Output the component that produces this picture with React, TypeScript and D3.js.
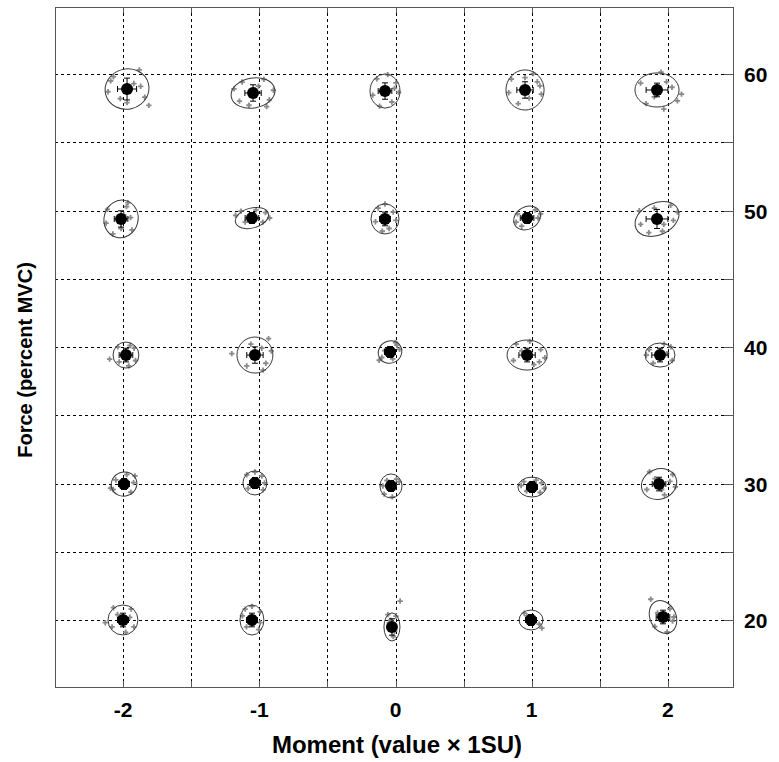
import React from "react";
import * as d3 from "d3";

// target conditions
const moments = [-2, -1, 0, 1, 2];
const forces = [60, 50, 40, 30, 20];

// mean positions of each condition, row by row (force 60 -> 20), column by moment
const meanX = [
  [-1.971, -1.046, -0.077, 0.951, 1.92],
  [-2.015, -1.054, -0.077, 0.966, 1.92],
  [-1.979, -1.032, -0.04, 0.966, 1.942],
  [-1.993, -1.032, -0.033, 1.002, 1.935],
  [-2.001, -1.054, -0.026, 0.995, 1.964],
];
const meanY = [
  [58.9, 58.61, 58.75, 58.83, 58.83],
  [49.38, 49.45, 49.38, 49.45, 49.38],
  [39.41, 39.41, 39.63, 39.41, 39.41],
  [29.96, 30.04, 29.82, 29.74, 29.96],
  [20.0, 20.0, 19.49, 20.0, 20.22],
];

// standard errors (error bars)
const errX = [
  [0.07, 0.06, 0.05, 0.06, 0.08],
  [0.05, 0.05, 0.04, 0.05, 0.08],
  [0.05, 0.06, 0.04, 0.06, 0.06],
  [0.04, 0.04, 0.03, 0.04, 0.05],
  [0.04, 0.04, 0.03, 0.04, 0.05],
];
const errY = [
  [0.8, 0.6, 0.6, 0.6, 0.5],
  [0.6, 0.4, 0.5, 0.4, 0.7],
  [0.5, 0.6, 0.4, 0.5, 0.5],
  [0.4, 0.4, 0.4, 0.4, 0.5],
  [0.5, 0.5, 0.6, 0.4, 0.5],
];

// ellipses: [rx (moment units), ry (force units), tilt degrees]
const ellipses = [
  [[0.162, 1.47, -15], [0.162, 1.1, -10], [0.11, 1.25, 0], [0.14, 1.47, 0], [0.162, 1.25, 0]],
  [[0.125, 1.39, 15], [0.125, 0.73, -15], [0.103, 1.1, 0], [0.103, 0.81, -30], [0.169, 1.17, -25]],
  [[0.095, 0.95, 0], [0.132, 1.32, 0], [0.088, 0.81, -30], [0.147, 1.1, 0], [0.11, 0.88, 0]],
  [[0.095, 0.88, -20], [0.088, 0.88, 0], [0.081, 0.88, 0], [0.103, 0.73, 0], [0.132, 1.1, -20]],
  [[0.11, 1.1, 0], [0.088, 1.1, 0], [0.059, 1.03, 0], [0.088, 0.73, 0], [0.095, 1.25, -25]],
];

// individual trials, offsets from the mean [dMoment, dForce]
const trials = [
  [
    [[-0.12, 0.6], [0.09, 1.4], [0.13, -0.6], [0.16, -1.2], [-0.14, -0.2], [-0.1, 0.9], [0.05, 0.4], [0.0, -1.0], [0.1, 0.2], [-0.05, -0.7]],
    [[-0.14, 0.3], [0.08, 1.0], [0.12, -0.5], [-0.1, -0.6], [0.04, 0.5], [0.15, 0.2], [-0.03, -0.9], [0.1, -1.0], [-0.08, 0.8]],
    [[-0.06, 0.9], [0.08, 0.6], [0.05, -0.8], [-0.09, -0.3], [0.02, 1.2], [0.1, -0.1], [-0.04, -1.1], [0.07, 0.2]],
    [[-0.1, 0.8], [0.06, 1.2], [0.12, -0.3], [-0.05, -1.0], [0.09, 0.6], [-0.12, -0.2], [0.03, -0.6], [0.11, 0.3], [0.0, 0.9]],
    [[-0.12, 0.5], [0.03, 1.3], [0.11, 0.2], [0.18, -0.3], [0.15, -0.8], [-0.08, -1.0], [0.05, -1.4], [-0.02, -0.5], [0.07, 0.6]],
  ],
  [
    [[-0.1, 0.7], [0.05, 1.2], [0.08, -0.8], [-0.06, -1.1], [0.02, 0.3], [-0.11, -0.3], [0.07, 0.1], [0.0, -0.7], [0.04, 0.9]],
    [[-0.12, 0.2], [0.1, 0.4], [0.08, -0.3], [-0.05, -0.3], [0.13, 0.0], [-0.08, 0.5], [0.03, 0.6]],
    [[-0.05, 0.8], [0.06, 0.5], [0.03, -0.7], [-0.07, -0.2], [0.0, 1.1], [0.08, -0.1], [-0.02, -0.9]],
    [[-0.08, -0.3], [0.06, 0.6], [0.1, 0.3], [-0.04, -0.6], [0.03, 0.1], [-0.07, 0.3], [0.08, 0.0]],
    [[-0.13, 0.6], [0.1, 1.0], [0.15, 0.5], [-0.12, -0.4], [-0.06, -1.0], [0.05, -0.4], [0.12, -0.1], [-0.02, 0.8], [0.04, -0.9]],
  ],
  [
    [[-0.06, 0.6], [0.06, 0.5], [0.07, -0.4], [-0.05, -0.5], [-0.12, -0.3], [0.02, -0.8], [0.03, 0.7]],
    [[-0.17, 0.1], [0.1, 1.2], [0.08, -0.6], [-0.06, -0.8], [0.05, 0.5], [0.12, 0.3], [-0.03, 0.8], [0.06, -1.1]],
    [[-0.06, -0.4], [0.05, 0.5], [0.07, 0.2], [-0.04, 0.1], [0.02, -0.5], [-0.08, -0.6], [0.04, 0.7]],
    [[-0.08, 0.8], [0.02, 1.0], [0.1, 0.4], [0.13, -0.2], [-0.1, -0.4], [0.05, -0.7], [-0.04, 0.3], [0.09, -0.5]],
    [[-0.08, 0.4], [0.08, 0.6], [0.09, -0.4], [-0.05, -0.6], [0.03, 0.8], [-0.1, 0.0], [0.05, 0.1]],
  ],
  [
    [[-0.08, -0.4], [0.08, 0.6], [0.05, -0.6], [-0.06, 0.3], [0.02, 0.7], [-0.1, -0.3], [0.07, 0.1]],
    [[-0.06, 0.6], [0.05, 0.5], [0.06, -0.5], [-0.05, -0.4], [0.0, 0.8], [0.07, 0.0]],
    [[-0.05, -0.6], [0.04, 0.5], [0.06, 0.3], [-0.03, 0.4], [0.01, -0.8], [-0.06, 0.0]],
    [[-0.08, 0.1], [0.07, 0.3], [0.09, -0.1], [-0.04, -0.3], [0.03, 0.5], [-0.06, 0.4], [0.06, -0.4]],
    [[-0.07, 0.9], [0.1, 0.7], [0.12, -0.2], [-0.09, -0.4], [0.04, -0.8], [-0.03, 0.4], [0.08, 0.2], [0.02, -0.4]],
  ],
  [
    [[-0.07, 0.9], [0.06, 0.8], [0.08, -0.5], [-0.08, -0.5], [-0.13, -0.2], [0.02, -0.9], [0.05, 0.2], [-0.04, 0.4]],
    [[-0.05, 0.8], [0.06, 0.6], [0.05, -0.7], [-0.04, -0.5], [0.0, 1.0], [0.06, -0.2], [-0.07, 0.3]],
    [[0.06, 1.9], [-0.03, 0.9], [0.03, 0.8], [0.02, -0.3], [-0.02, 0.3], [0.01, -0.7], [-0.01, 0.5]],
    [[-0.05, 0.5], [0.06, -0.3], [0.08, -0.6], [-0.03, 0.3], [0.02, -0.2]],
    [[-0.09, 1.3], [0.05, 0.6], [0.07, -0.3], [-0.06, -0.7], [-0.04, 0.3], [0.03, -1.1], [0.08, 0.0]],
  ],
];

const gridX = [-2, -1.5, -1, -0.5, 0, 0.5, 1, 1.5, 2];
const gridY = [20, 25, 30, 35, 40, 45, 50, 55, 60];

const W = 779;
const H = 762;
const left = 55;
const right = 733;
const top = 7;
const bottom = 687;

const font = "'Liberation Sans', Arial, sans-serif";

export default function App() {
  const x = d3.scaleLinear().domain([-2.5, 2.5]).range([left, right + 3]);
  const y = d3.scaleLinear().domain([20, 60]).range([620, 74]);
  const kx = x(1) - x(0);
  const ky = y(0) - y(1);
  const cross = d3.symbol().type(d3.symbolCross).size(16)();

  const groups: React.ReactNode[] = [];
  forces.forEach((f, r) => {
    moments.forEach((m, c) => {
      const mx = x(meanX[r][c]);
      const my = y(meanY[r][c]);
      const [erx, ery, ang] = ellipses[r][c];
      const ex = errX[r][c] * kx;
      const ey = errY[r][c] * ky;
      groups.push(
        <g key={`${f}-${m}`}>
          {trials[r][c].map(([dx, dy], i) => (
            <path
              key={i}
              d={cross}
              transform={`translate(${x(meanX[r][c] + dx)},${y(meanY[r][c] + dy)})`}
              fill="#8a8a8a"
            />
          ))}
          <ellipse
            cx={mx}
            cy={my}
            rx={erx * kx}
            ry={ery * ky}
            transform={`rotate(${ang},${mx},${my})`}
            fill="none"
            stroke="#3a3a3a"
            strokeWidth={1}
          />
          <g stroke="#000" strokeWidth={1}>
            <line x1={mx - ex} x2={mx + ex} y1={my} y2={my} />
            <line x1={mx - ex} x2={mx - ex} y1={my - 3} y2={my + 3} />
            <line x1={mx + ex} x2={mx + ex} y1={my - 3} y2={my + 3} />
            <line x1={mx} x2={mx} y1={my - ey} y2={my + ey} />
            <line x1={mx - 3} x2={mx + 3} y1={my - ey} y2={my - ey} />
            <line x1={mx - 3} x2={mx + 3} y1={my + ey} y2={my + ey} />
          </g>
          <circle cx={mx} cy={my} r={6} fill="#000" />
        </g>
      );
    });
  });

  return (
    <svg
      width={W}
      height={H}
      style={{ position: "absolute", left: 0, top: 0, background: "#fff" }}
      fontFamily={font}
    >
      <rect x={0} y={0} width={W} height={H} fill="#fff" />
      <g stroke="#000" strokeWidth={1} strokeDasharray="3,3">
        {gridX.map((g) => (
          <line key={g} x1={Math.round(x(g)) + 0.5} x2={Math.round(x(g)) + 0.5} y1={top} y2={bottom} />
        ))}
        {gridY.map((g) => (
          <line key={g} x1={left} x2={right} y1={Math.round(y(g)) + 0.5} y2={Math.round(y(g)) + 0.5} />
        ))}
      </g>
      <g stroke="#555" strokeWidth={1}>
        {gridX.map((g) => (
          <line key={g} x1={Math.round(x(g)) + 0.5} x2={Math.round(x(g)) + 0.5} y1={bottom} y2={bottom - 6} />
        ))}
        {gridX.map((g) => (
          <line key={"t" + g} x1={Math.round(x(g)) + 0.5} x2={Math.round(x(g)) + 0.5} y1={top} y2={top + 6} />
        ))}
        {gridY.map((g) => (
          <line key={g} x1={right} x2={right - 9} y1={Math.round(y(g)) + 0.5} y2={Math.round(y(g)) + 0.5} />
        ))}
      </g>
      <rect x={left + 0.5} y={top + 0.5} width={right - left} height={bottom - top} fill="none" stroke="#555" strokeWidth={1} />
      {groups}
      <g fontSize={21} fontWeight="bold" fill="#000">
        {moments.map((m) => (
          <text key={m} x={x(m)} y={717} textAnchor="middle">
            {m}
          </text>
        ))}
        {forces.map((f) => (
          <text key={f} x={744} y={y(f) + 8} textAnchor="start">
            {f}
          </text>
        ))}
        <text x={397} y={753} textAnchor="middle" fontSize={24}>
          Moment (value × 1SU)
        </text>
        <text transform={`translate(32,360) rotate(-90)`} textAnchor="middle" fontSize={20}>
          Force (percent MVC)
        </text>
      </g>
    </svg>
  );
}
